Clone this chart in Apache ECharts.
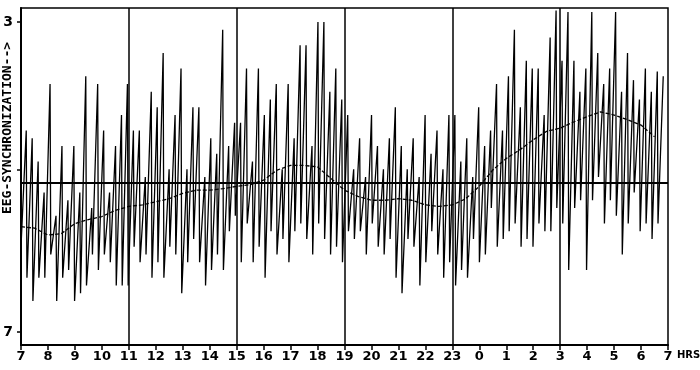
<!DOCTYPE html>
<html><head><meta charset="utf-8">
<script src="https://cdn.jsdelivr.net/npm/echarts@6/dist/echarts.min.js"></script>
<style>html,body{margin:0;padding:0;background:#fff}#c{width:700px;height:370px}</style>
</head><body><div id="c"></div>
<script>
// hour tick labels (clock time, starting 07:00)
const hourLabels = [7,8,9,10,11,12,13,14,15,16,17,18,19,20,21,22,23,0,1,2,3,4,5,6,7];
const yLabels = [3, 7];

// raw EEG-synchronization trace: trough / peak per cycle, in six 4-hour blocks
const lows1  = [5.9, 6.3, 6.6, 6.3, 6.3, 6.0, 6.6, 6.3, 6.2, 6.6, 6.5, 6.4, 6.0, 6.2, 6.0, 6.1, 6.4, 6.4];
const highs1 = [4.4, 4.5, 4.8, 5.2, 3.8, 5.5, 4.6, 5.3, 4.6, 5.2, 3.7, 5.4, 3.8, 4.4, 5.2, 4.6, 4.2, 3.8];
const lows2  = [6.4, 5.9, 6.1, 6.0, 6.3, 6.1, 6.3, 5.9, 6.0, 6.5, 6.1, 5.8, 6.1, 6.4, 6.2, 6.0, 6.2, 5.7];
const highs2 = [4.4, 4.4, 5.0, 3.9, 4.1, 3.4, 4.9, 4.2, 3.6, 4.9, 4.1, 4.1, 5.0, 4.5, 4.7, 3.1, 4.6, 4.3];
const lows3  = [5.5, 6.1, 5.6, 6.1, 5.9, 6.3, 5.7, 6.0, 5.8, 6.1, 5.7, 5.6, 5.8, 6.0, 5.6, 5.8, 6.0, 5.9];
const highs3 = [4.3, 3.6, 4.8, 3.6, 4.2, 4.0, 3.8, 4.9, 3.8, 4.5, 3.3, 3.3, 4.6, 3.0, 3.0, 3.9, 3.6, 4.0];
const lows4  = [6.1, 5.7, 5.8, 5.7, 6.0, 5.6, 5.9, 6.0, 5.8, 6.3, 6.5, 5.8, 5.9, 6.4, 6.1, 5.7, 6.0, 6.3];
const highs4 = [4.2, 4.9, 4.5, 5.0, 4.2, 4.6, 4.9, 4.5, 4.1, 4.6, 4.9, 4.5, 5.0, 4.2, 4.7, 4.4, 4.9, 4.2];
const lows5  = [6.1, 6.4, 6.2, 6.3, 5.8, 6.1, 6.0, 5.4, 5.9, 5.8, 5.7, 5.6, 5.9, 5.8, 5.9, 5.6, 5.7, 5.7];
const highs5 = [4.2, 4.8, 4.5, 5.0, 4.1, 4.6, 4.4, 3.8, 4.4, 3.7, 3.1, 4.1, 3.5, 3.6, 3.6, 4.2, 3.2, 2.85];
const lows6  = [5.4, 5.6, 6.2, 5.4, 5.3, 6.2, 5.3, 5.0, 5.6, 5.3, 5.5, 6.0, 5.6, 5.2, 5.7, 5.6, 5.8, 5.6];
const highs6 = [3.5, 2.87, 3.5, 3.9, 3.6, 2.87, 3.4, 3.8, 3.6, 2.87, 3.9, 3.4, 3.75, 4.0, 3.6, 3.9, 3.64, 3.7];

// smoothed (moving average) curve, hours since 07:00
const maHours  = [0,0.5,1,1.5,2,2.5,3,3.5,4,4.5,5,5.5,6,6.5,7,7.5,8,8.5,9,9.5,10,10.5,11,11.5,12,12.5,13,13.5,14,14.5,15,15.5,16,16.5,17,17.5,18,18.5,19,19.5,20,20.5,21,21.5,22,22.5,23,23.5];
const maValues = [5.64,5.66,5.75,5.73,5.6,5.55,5.51,5.43,5.38,5.36,5.32,5.28,5.21,5.17,5.17,5.15,5.12,5.1,5.04,4.91,4.85,4.85,4.87,5.02,5.17,5.25,5.3,5.3,5.28,5.3,5.36,5.38,5.36,5.28,5.12,4.91,4.76,4.65,4.52,4.41,4.37,4.29,4.22,4.16,4.2,4.26,4.33,4.48];

const meanLevel = 5.08;
const blockHours = [4, 8, 12, 16, 20];

const lows = [].concat(lows1, lows2, lows3, lows4, lows5, lows6);
const highs = [].concat(highs1, highs2, highs3, highs4, highs5, highs6);
const cycleLen = 23.85 / lows.length;
const trace = [];
for (let i = 0; i < lows.length; i++) {
  trace.push([i * cycleLen, lows[i]]);
  trace.push([i * cycleLen + 0.88 * cycleLen, highs[i]]);
}
const ma = maHours.map((h, i) => [h, maValues[i]]);

const font = 'DejaVu Sans';
const chart = echarts.init(document.getElementById('c'), null, {renderer: 'canvas'});
chart.setOption({
  animation: false,
  backgroundColor: '#fff',
  grid: {left: 21, right: 32, top: 8, bottom: 25, show: true, borderColor: '#000', borderWidth: 1.5, containLabel: false},
  xAxis: {
    type: 'value', min: 0, max: 24, interval: 1,
    axisLine: {show: true, lineStyle: {color: '#000', width: 2}},
    axisTick: {show: true, length: 5, lineStyle: {color: '#000', width: 1.5}},
    axisLabel: {color: '#000', fontFamily: font, fontWeight: 'bold', fontSize: 13, margin: 5,
      formatter: v => String(hourLabels[Math.round(v)])},
    splitLine: {show: false}
  },
  yAxis: {
    type: 'value', inverse: true, min: 2.819, max: 7.168,
    axisLine: {show: true, lineStyle: {color: '#000', width: 2}},
    axisTick: {show: true, length: 4, customValues: [3, 4.9, 7], lineStyle: {color: '#000', width: 1.5}},
    axisLabel: {color: '#000', fontFamily: font, fontWeight: 'bold', fontSize: 14, margin: 8,
      customValues: yLabels, formatter: v => String(Math.round(v))},
    splitLine: {show: false}
  },
  graphic: [
    {type: 'text', x: 8, y: 128, rotation: Math.PI / 2,
      style: {text: 'EEG-SYNCHRONIZATION-->', fill: '#000', font: 'bold 13px "DejaVu Sans Mono"', align: 'center', verticalAlign: 'middle'}},
    {type: 'text', x: 677, y: 355,
      style: {text: 'HRS', fill: '#000', font: 'bold 10px "DejaVu Sans"', align: 'left', verticalAlign: 'middle'}}
  ],
  series: [
    {
      type: 'line', data: trace, symbol: 'none', silent: true,
      lineStyle: {color: '#000', width: 1.3},
      markLine: {
        silent: true, symbol: 'none', label: {show: false},
        data: [
          {yAxis: meanLevel, lineStyle: {color: '#000', width: 2, type: 'solid'}}
        ].concat(blockHours.map(h => ({xAxis: h, lineStyle: {color: '#000', width: 1.5, type: 'solid'}})))
      }
    },
    {
      type: 'line', data: ma, symbol: 'none', silent: true, smooth: false,
      lineStyle: {color: '#000', width: 1.3, type: [4, 2]}
    }
  ]
});
</script>
</body></html>
